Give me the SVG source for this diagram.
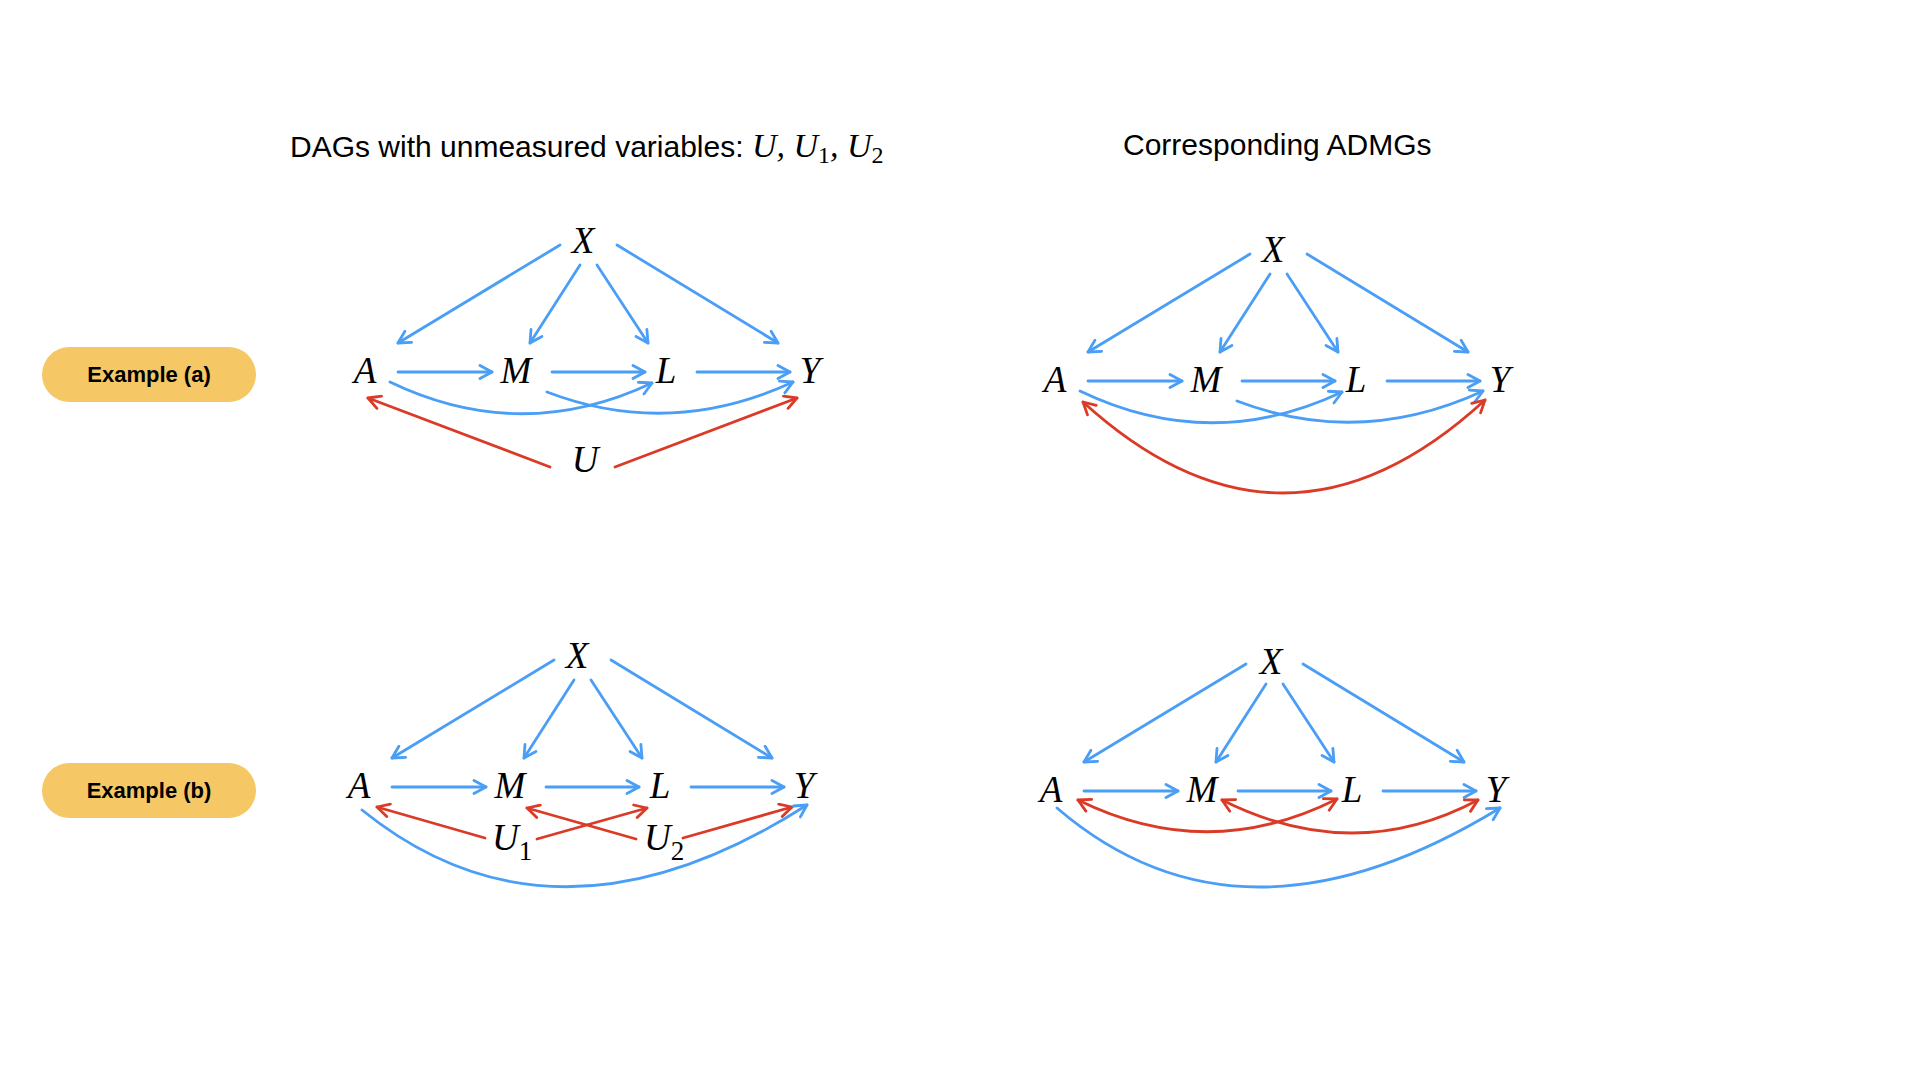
<svg xmlns="http://www.w3.org/2000/svg" width="1920" height="1080" viewBox="0 0 1920 1080">
  <style>
    .hdr { font-family: "Liberation Sans", Arial, sans-serif; font-size: 30px; fill: #000; }
    .hmath { font-family: "Liberation Serif", "Times New Roman", serif; font-style: italic; font-size: 34px; fill: #000; }
    .sub { font-style: normal; font-size: 24px; }
    .nsub { font-style: normal; font-size: 27px; }
    .pill { fill: #F5C765; }
    .pilltxt { font-family: "Liberation Sans", Arial, sans-serif; font-weight: bold; font-size: 22px; fill: #000; text-anchor: middle; }
    .var { font-family: "Liberation Serif", "Times New Roman", serif; font-style: italic; font-size: 37px; fill: #000; text-anchor: middle; }
    .uvar { font-family: "Liberation Serif", "Times New Roman", serif; font-style: italic; font-size: 37px; fill: #000; }
    .b { fill: none; stroke: #4A9EF5; stroke-width: 2.8; stroke-linecap: round; marker-end: url(#ab); }
    .r { fill: none; stroke: #DA3A26; stroke-width: 2.8; stroke-linecap: round; marker-end: url(#ar); }
    .rr { fill: none; stroke: #DA3A26; stroke-width: 2.8; stroke-linecap: round; marker-start: url(#ar); marker-end: url(#ar); }
  </style>
  <defs>
    <marker id="ab" viewBox="0 0 16 16" refX="14" refY="8" markerWidth="16" markerHeight="16" markerUnits="userSpaceOnUse" orient="auto-start-reverse">
      <path d="M2,1.5 L14,8 L2,14.5" fill="none" stroke="#4A9EF5" stroke-width="2.8" stroke-linecap="round" stroke-linejoin="round"/>
    </marker>
    <marker id="ar" viewBox="0 0 16 16" refX="14" refY="8" markerWidth="16" markerHeight="16" markerUnits="userSpaceOnUse" orient="auto-start-reverse">
      <path d="M2,1.5 L14,8 L2,14.5" fill="none" stroke="#DA3A26" stroke-width="2.8" stroke-linecap="round" stroke-linejoin="round"/>
    </marker>
  </defs>
  <rect width="1920" height="1080" fill="#fff"/>

  <g id="headers">
    <text class="hdr" x="290" y="157">DAGs with unmeasured variables: <tspan class="hmath">U, U<tspan class="sub" dy="6">1</tspan><tspan dy="-6">, U</tspan><tspan class="sub" dy="6">2</tspan></tspan></text>
    <text class="hdr" x="1123" y="155">Corresponding ADMGs</text>
  </g>

  <g id="label-a">
    <rect class="pill" x="42" y="347" width="214" height="55" rx="27.5"/>
    <text class="pilltxt" x="149" y="382">Example (a)</text>
  </g>
  <g id="label-b">
    <rect class="pill" x="42" y="763" width="214" height="55" rx="27.5"/>
    <text class="pilltxt" x="149" y="798">Example (b)</text>
  </g>

  <!-- Example (a) DAG -->
  <g id="panel-a-dag">
    <g id="a-dag-connectors">
      <path class="b" d="M560,245 L398,343"/>
      <path class="b" d="M580,265 L530,343"/>
      <path class="b" d="M597,265 L648,343"/>
      <path class="b" d="M617,245 L778,343"/>
      <path class="b" d="M398,372 L492,372"/>
      <path class="b" d="M552,372 L645,372"/>
      <path class="b" d="M697,372 L790,372"/>
      <path class="b" d="M390,382 Q521,445 652,383"/>
      <path class="b" d="M547,392 Q670,439 793,382"/>
      <path class="r" d="M550,467 L368,398"/>
      <path class="r" d="M615,467 L797,398"/>
    </g>
    <g id="a-dag-X"><text class="var" x="583" y="253">X</text></g>
    <g id="a-dag-A"><text class="var" x="365" y="383">A</text></g>
    <g id="a-dag-M"><text class="var" x="516" y="383">M</text></g>
    <g id="a-dag-L"><text class="var" x="666" y="383">L</text></g>
    <g id="a-dag-Y"><text class="var" x="810" y="383">Y</text></g>
    <g id="a-dag-U"><text class="var" x="585" y="472">U</text></g>
  </g>

  <!-- Example (a) ADMG -->
  <g id="panel-a-admg" transform="translate(690,9)">
    <g id="a-admg-connectors">
      <path class="b" d="M560,245 L398,343"/>
      <path class="b" d="M580,265 L530,343"/>
      <path class="b" d="M597,265 L648,343"/>
      <path class="b" d="M617,245 L778,343"/>
      <path class="b" d="M398,372 L492,372"/>
      <path class="b" d="M552,372 L645,372"/>
      <path class="b" d="M697,372 L790,372"/>
      <path class="b" d="M390,382 Q521,445 652,383"/>
      <path class="b" d="M547,392 Q670,439 793,382"/>
      <path class="rr" d="M393,393 Q594,576 795,391"/>
    </g>
    <g id="a-admg-X"><text class="var" x="583" y="253">X</text></g>
    <g id="a-admg-A"><text class="var" x="365" y="383">A</text></g>
    <g id="a-admg-M"><text class="var" x="516" y="383">M</text></g>
    <g id="a-admg-L"><text class="var" x="666" y="383">L</text></g>
    <g id="a-admg-Y"><text class="var" x="810" y="383">Y</text></g>
  </g>

  <!-- Example (b) DAG -->
  <g id="panel-b-dag" transform="translate(-6,415)">
    <g id="b-dag-connectors">
      <path class="b" d="M560,245 L398,343"/>
      <path class="b" d="M580,265 L530,343"/>
      <path class="b" d="M597,265 L648,343"/>
      <path class="b" d="M617,245 L778,343"/>
      <path class="b" d="M398,372 L492,372"/>
      <path class="b" d="M552,372 L645,372"/>
      <path class="b" d="M697,372 L790,372"/>
      <path class="r" d="M491,423 L383,392"/>
      <path class="r" d="M543,424 L653,393"/>
      <path class="r" d="M642,424 L533,393"/>
      <path class="r" d="M689,423 L798,392"/>
      <path class="b" d="M368,395 Q561,551 813,390"/>
    </g>
    <g id="b-dag-X"><text class="var" x="583" y="253">X</text></g>
    <g id="b-dag-A"><text class="var" x="365" y="383">A</text></g>
    <g id="b-dag-M"><text class="var" x="516" y="383">M</text></g>
    <g id="b-dag-L"><text class="var" x="666" y="383">L</text></g>
    <g id="b-dag-Y"><text class="var" x="810" y="383">Y</text></g>
    <g id="b-dag-U1"><text class="uvar" x="498" y="435">U<tspan class="nsub" dy="10">1</tspan></text></g>
    <g id="b-dag-U2"><text class="uvar" x="650" y="435">U<tspan class="nsub" dy="10">2</tspan></text></g>
  </g>

  <!-- Example (b) ADMG -->
  <g id="panel-b-admg" transform="translate(686,419)">
    <g id="b-admg-connectors">
      <path class="b" d="M560,245 L398,343"/>
      <path class="b" d="M580,265 L530,343"/>
      <path class="b" d="M597,265 L648,343"/>
      <path class="b" d="M617,245 L778,343"/>
      <path class="b" d="M398,372 L492,372"/>
      <path class="b" d="M552,372 L645,372"/>
      <path class="b" d="M697,372 L790,372"/>
      <path class="rr" d="M392,381 Q522,445 651,380"/>
      <path class="rr" d="M536,381 Q668,447 792,381"/>
      <path class="b" d="M371,389 Q555,547 814,389"/>
    </g>
    <g id="b-admg-X"><text class="var" x="585" y="255">X</text></g>
    <g id="b-admg-A"><text class="var" x="365" y="383">A</text></g>
    <g id="b-admg-M"><text class="var" x="516" y="383">M</text></g>
    <g id="b-admg-L"><text class="var" x="666" y="383">L</text></g>
    <g id="b-admg-Y"><text class="var" x="810" y="383">Y</text></g>
  </g>
</svg>
